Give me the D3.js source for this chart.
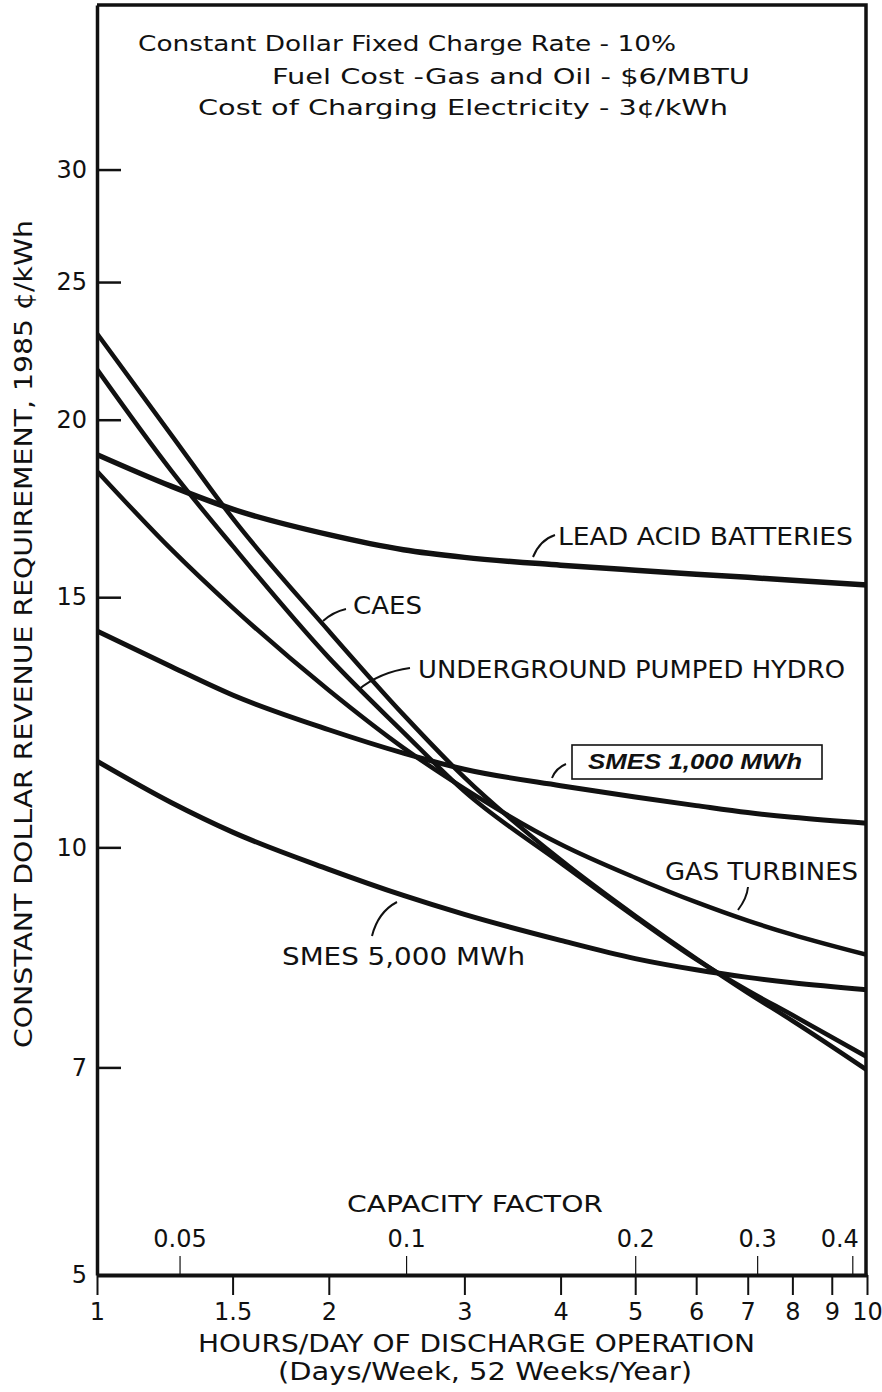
<!DOCTYPE html>
<html>
<head>
<meta charset="utf-8">
<script src="https://cdn.jsdelivr.net/npm/d3@7"></script>
<style>
  body { margin: 0; background: #fff; }
  svg { display: block; }
  text { font-family: "DejaVu Sans", sans-serif; fill: #111; }
</style>
</head>
<body>
<svg id="chart" width="882" height="1392"></svg>
<script>
// hours/day of discharge operation
const hours = [1, 1.25, 1.5, 2, 2.5, 3, 4, 5, 6, 7, 8, 10];

// constant dollar revenue requirement, 1985 cents/kWh
const leadAcid    = [18.9, 17.95, 17.3, 16.6, 16.2, 16.0, 15.8, 15.67, 15.57, 15.49, 15.42, 15.3];
const caes        = [23.0, 19.5, 17.05, 14.2, 12.4, 11.2, 9.8, 8.95, 8.35, 7.9, 7.55, 6.97];
const pumpedHydro = [21.7, 18.4, 16.3, 13.6, 12.05, 10.95, 9.75, 8.93, 8.34, 7.93, 7.62, 7.12];
const gasTurbines = [18.4, 16.2, 14.75, 12.9, 11.75, 11.0, 10.05, 9.52, 9.15, 8.88, 8.68, 8.4];
const smes1000    = [14.2, 13.4, 12.8, 12.1, 11.65, 11.35, 11.05, 10.85, 10.7, 10.58, 10.5, 10.4];
const smes5000    = [11.5, 10.75, 10.25, 9.65, 9.25, 8.97, 8.6, 8.35, 8.2, 8.1, 8.03, 7.94];

const yTicks = [5, 7, 10, 15, 20, 25, 30];
const hourTicks = [1, 1.5, 2, 3, 4, 5, 6, 7, 8, 9, 10];
const capacityLabels = ["0.05", "0.1", "0.2", "0.3", "0.4"];
const capacityHours = [1.28, 2.52, 5.0, 7.2, 9.57];

const noteLines = [
  "Constant Dollar Fixed Charge Rate - 10%",
  "Fuel Cost -Gas and Oil - $6/MBTU",
  "Cost of Charging Electricity - 3\u00a2/kWh"
];

const svg = d3.select("#chart");
const m = { left: 97, right: 867, top: 5, bottom: 1275 };

const x = d3.scaleLog().domain([1, 10]).range([m.left, m.right]);
const y = d3.scaleLog().domain([5, 39.17]).range([m.bottom, m.top]);

const series = [
  { name: "lead", values: leadAcid, w: 5.5 },
  { name: "caes", values: caes, w: 4.5 },
  { name: "uph", values: pumpedHydro, w: 4.5 },
  { name: "gt", values: gasTurbines, w: 4.5 },
  { name: "smes1", values: smes1000, w: 5 },
  { name: "smes5", values: smes5000, w: 5 }
];

svg.append("clipPath").attr("id", "plot")
  .append("rect").attr("x", m.left).attr("y", m.top)
  .attr("width", m.right - m.left).attr("height", m.bottom - m.top);

const line = d3.line()
  .x(d => x(d[0]))
  .y(d => y(d[1]))
  .curve(d3.curveMonotoneX);

svg.append("g").attr("clip-path", "url(#plot)")
  .selectAll("path").data(series).enter().append("path")
  .attr("d", s => line(hours.map((h, i) => [h, s.values[i]])))
  .attr("fill", "none").attr("stroke", "#111")
  .attr("stroke-width", s => s.w)
  .attr("stroke-linejoin", "round");

// frame top & right
svg.append("path")
  .attr("d", `M${m.left},${m.top}H${m.right - 1}V${m.bottom}`)
  .attr("fill", "none").attr("stroke", "#111").attr("stroke-width", 3.5);

// y axis (ticks inward)
const yAxis = svg.append("g").attr("transform", `translate(${m.left},0)`)
  .call(d3.axisLeft(y).tickValues(yTicks).tickFormat(d3.format("d"))
    .tickSizeInner(-24).tickSizeOuter(0).tickPadding(10));
yAxis.select(".domain").attr("stroke", "#111").attr("stroke-width", 3.5);
yAxis.selectAll(".tick line").attr("stroke", "#111").attr("stroke-width", 2.5);
yAxis.selectAll("text").attr("font-size", 24).attr("fill", "#111")
  .style("font-family", "DejaVu Sans");

// bottom axis: hours
const xAxis = svg.append("g").attr("transform", `translate(0,${m.bottom})`)
  .call(d3.axisBottom(x).tickValues(hourTicks).tickFormat(d => d)
    .tickSizeInner(20).tickSizeOuter(0).tickPadding(8));
xAxis.select(".domain").attr("stroke", "#111").attr("stroke-width", 4);
xAxis.selectAll(".tick line").attr("stroke", "#111").attr("stroke-width", 2);
xAxis.selectAll("text").attr("font-size", 24).attr("fill", "#111")
  .style("font-family", "DejaVu Sans");

// top-of-axis capacity factor ticks
const cfAxis = svg.append("g").attr("transform", `translate(0,${m.bottom})`)
  .call(d3.axisTop(x).tickValues(capacityHours)
    .tickFormat((d, i) => capacityLabels[i])
    .tickSizeInner(19).tickSizeOuter(0).tickPadding(9));
cfAxis.select(".domain").remove();
cfAxis.selectAll(".tick line").attr("stroke", "#111").attr("stroke-width", 1.2);
cfAxis.selectAll("text").attr("font-size", 24).attr("fill", "#111")
  .style("font-family", "DejaVu Sans")
  .attr("dx", (d, i) => i === capacityLabels.length - 1 ? -13 : 0);

// axis titles
svg.append("text").text("CAPACITY FACTOR")
  .attr("x", 347).attr("y", 1212).attr("font-size", 23)
  .attr("textLength", 256).attr("lengthAdjust", "spacingAndGlyphs");
svg.append("text").text("HOURS/DAY OF DISCHARGE OPERATION")
  .attr("x", 198).attr("y", 1352).attr("font-size", 24)
  .attr("textLength", 557).attr("lengthAdjust", "spacingAndGlyphs");
svg.append("text").text("(Days/Week, 52 Weeks/Year)")
  .attr("x", 278).attr("y", 1380).attr("font-size", 24)
  .attr("textLength", 414).attr("lengthAdjust", "spacingAndGlyphs");
svg.append("text").text("CONSTANT DOLLAR REVENUE REQUIREMENT, 1985 \u00a2/kWh")
  .attr("transform", "translate(32,1048) rotate(-90)")
  .attr("font-size", 25)
  .attr("textLength", 828).attr("lengthAdjust", "spacingAndGlyphs");

// header notes
const noteLayout = [[138, 51, 538], [272, 84, 478], [198, 115, 530]];
svg.selectAll(".note").data(noteLines).enter().append("text")
  .attr("class", "note").text(d => d)
  .attr("x", (d, i) => noteLayout[i][0]).attr("y", (d, i) => noteLayout[i][1])
  .attr("font-size", 22)
  .attr("textLength", (d, i) => noteLayout[i][2]).attr("lengthAdjust", "spacingAndGlyphs");

// curve labels
const labels = [
  { t: "LEAD ACID BATTERIES", x: 558, y: 545, w: 295, lead: "M533,557 Q540,540 555,535" },
  { t: "CAES", x: 353, y: 614, w: 69, lead: "M323,621 Q333,612 346,609" },
  { t: "UNDERGROUND PUMPED HYDRO", x: 418, y: 678, w: 427, lead: "M358,690 Q380,672 410,668" },
  { t: "GAS TURBINES", x: 665, y: 880, w: 193, lead: "M738,910 Q747,898 748,887" },
  { t: "SMES 5,000 MWh", x: 282, y: 965, w: 243, lead: "M372,936 Q378,912 397,902" }
];
const lab = svg.append("g");
labels.forEach(l => {
  lab.append("text").text(l.t).attr("x", l.x).attr("y", l.y)
    .attr("font-size", 24)
    .attr("textLength", l.w).attr("lengthAdjust", "spacingAndGlyphs");
  lab.append("path").attr("d", l.lead)
    .attr("fill", "none").attr("stroke", "#111").attr("stroke-width", 2);
});

// boxed SMES 1,000 label
lab.append("rect").attr("x", 572).attr("y", 745).attr("width", 250).attr("height", 34)
  .attr("fill", "#fff").attr("stroke", "#111").attr("stroke-width", 1.6);
lab.append("text").text("SMES 1,000 MWh").attr("x", 588).attr("y", 769)
  .attr("font-size", 22).attr("font-weight", "bold").attr("font-style", "italic")
  .style("font-family", "Liberation Sans, Arial, sans-serif")
  .attr("textLength", 214).attr("lengthAdjust", "spacingAndGlyphs");
lab.append("path").attr("d", "M552,778 Q556,768 566,764")
  .attr("fill", "none").attr("stroke", "#111").attr("stroke-width", 2);
</script>
</body>
</html>
